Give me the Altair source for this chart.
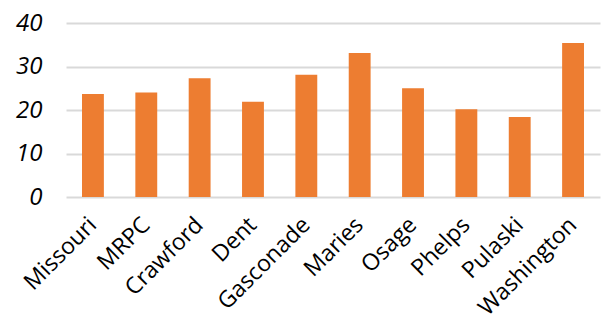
import altair as alt
import pandas as pd

categories = ["Missouri", "MRPC", "Crawford", "Dent", "Gasconade", "Maries", "Osage", "Phelps", "Pulaski", "Washington"]
values = [23.7, 24.0, 27.3, 21.9, 28.1, 33.1, 25.0, 20.2, 18.4, 35.4]

df = pd.DataFrame({"category": categories, "value": values})

chart = alt.Chart(df).mark_bar(color="#ED7D31").encode(
    x=alt.X("category:N", sort=categories, title=None,
            scale=alt.Scale(paddingInner=0.59, paddingOuter=0.3),
            axis=alt.Axis(labelAngle=-45, labelFontSize=23, labelFont="Open Sans",
                          labelColor="#000000", domain=False, ticks=False, labelPadding=24,
                          labelAlign="right", labelBaseline="middle")),
    y=alt.Y("value:Q", title=None,
            scale=alt.Scale(domain=[0, 40], nice=False),
            axis=alt.Axis(values=[0, 10, 20, 30, 40], labelFontSize=24, labelFont="Open Sans",
                          labelFontStyle="italic", labelColor="#000000", domain=False, ticks=False,
                          labelPadding=24, gridColor="#D9D9D9", gridWidth=2)),
).properties(
    width=534, height=174,
    autosize=alt.AutoSizeParams(type="none"),
    padding={"left": 66, "top": 23, "right": 2, "bottom": 123},
).configure_view(stroke=None)

chart.save("out.html", embed_options={"renderer": "svg", "actions": False})
